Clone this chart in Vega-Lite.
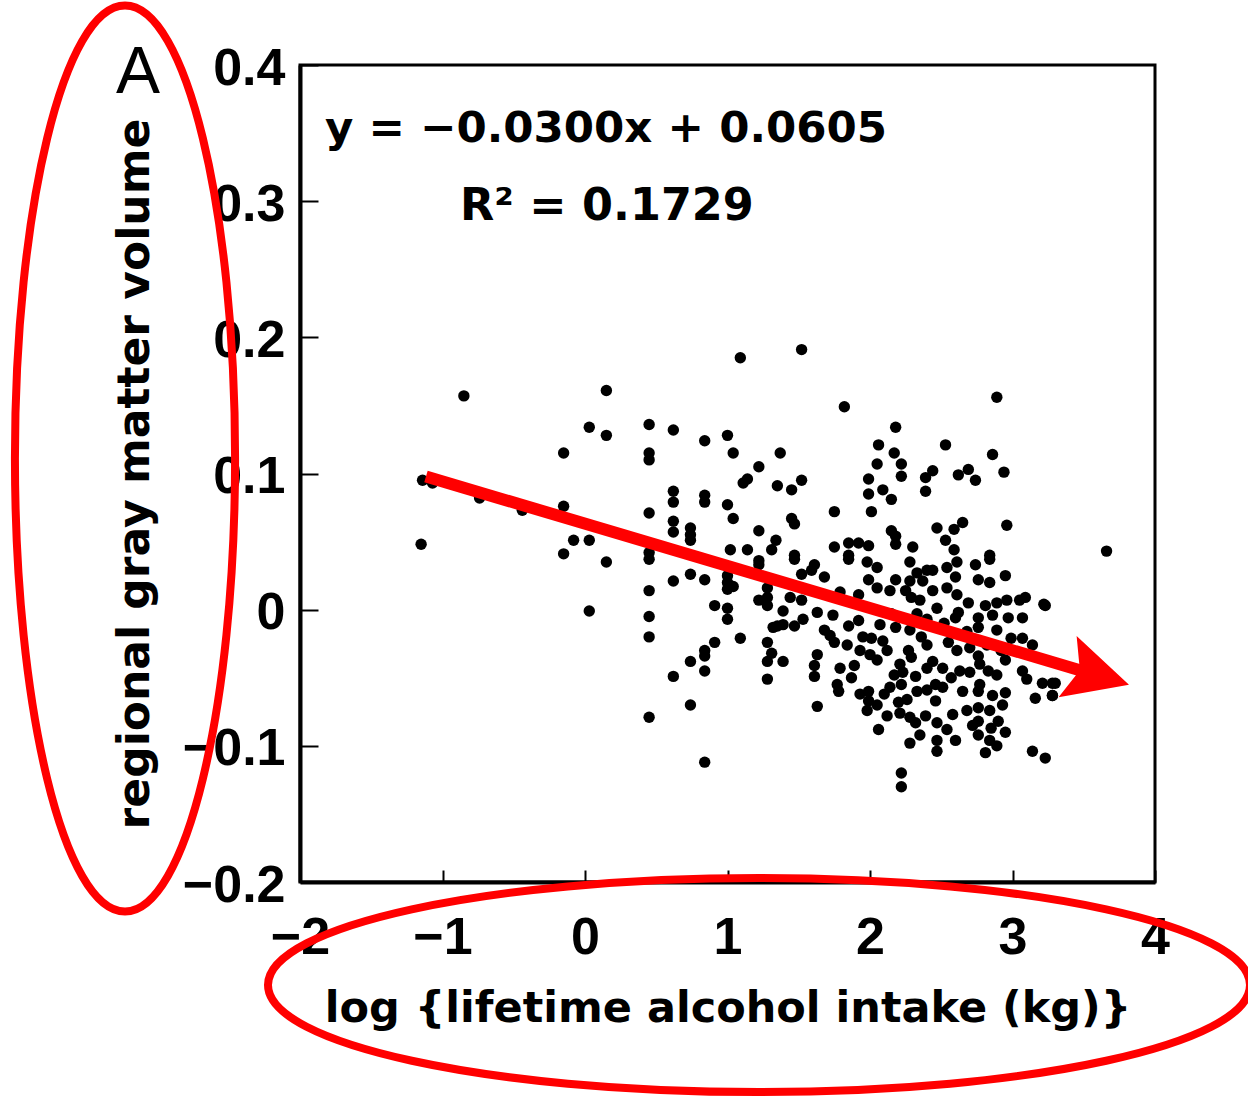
{
  "$schema": "https://vega.github.io/schema/vega-lite/v6.json",
  "autosize": "none",
  "width": 855,
  "height": 817,
  "padding": {"left": 300, "top": 65, "right": 93, "bottom": 215},
  "background": "white",
  "config": {
    "view": {"stroke": "black", "strokeWidth": 3},
    "font": "Liberation Sans"
  },
  "datasets": {
    "pts": [
      {"x":-0.85,"y":0.157},{"x":0.15,"y":0.161},{"x":0.03,"y":0.134},{"x":0.15,"y":0.128},{"x":-0.15,"y":0.115},{"x":-1.14,"y":0.095},{"x":-1.07,"y":0.093},{"x":-0.74,"y":0.082},{"x":-0.44,"y":0.073},{"x":-0.15,"y":0.076},{"x":-1.15,"y":0.048},{"x":-0.08,"y":0.051},{"x":0.03,"y":0.051},{"x":-0.15,"y":0.041},{"x":0.15,"y":0.035},{"x":0.03,"y":-0.001},
      {"x":1.09,"y":0.185},{"x":0.45,"y":0.136},{"x":0.45,"y":0.115},{"x":0.45,"y":0.110},{"x":0.62,"y":0.132},{"x":0.84,"y":0.124},{"x":1.0,"y":0.128},{"x":1.04,"y":0.115},{"x":1.22,"y":0.105},{"x":1.11,"y":0.093},{"x":1.14,"y":0.096},{"x":1.35,"y":0.091},{"x":1.37,"y":0.115},{"x":0.62,"y":0.087},{"x":0.62,"y":0.079},{"x":0.84,"y":0.084},{"x":0.84,"y":0.079},{"x":1.0,"y":0.077},{"x":1.04,"y":0.067},{"x":0.45,"y":0.071},{"x":0.62,"y":0.065},{"x":0.62,"y":0.057},{"x":0.74,"y":0.060},{"x":0.74,"y":0.055},{"x":0.74,"y":0.051},{"x":1.22,"y":0.058},{"x":1.34,"y":0.051},{"x":1.02,"y":0.044},{"x":1.14,"y":0.044},{"x":1.31,"y":0.044},{"x":0.45,"y":0.042},
      {"x":0.45,"y":0.037},{"x":0.62,"y":0.021},{"x":0.74,"y":0.026},{"x":0.84,"y":0.022},{"x":1.0,"y":0.025},{"x":1.0,"y":0.020},{"x":1.0,"y":0.015},{"x":1.04,"y":0.017},{"x":1.22,"y":0.036},{"x":1.22,"y":0.033},{"x":1.22,"y":0.007},{"x":1.28,"y":0.016},{"x":1.28,"y":0.009},{"x":1.28,"y":0.003},{"x":0.45,"y":0.014},{"x":0.91,"y":0.003},{"x":1.0,"y":0.001},{"x":1.0,"y":-0.007},{"x":0.45,"y":-0.005},{"x":0.45,"y":-0.020},{"x":1.32,"y":-0.013},{"x":1.35,"y":-0.012},{"x":0.91,"y":-0.024},{"x":1.09,"y":-0.021},{"x":1.28,"y":-0.024},{"x":1.31,"y":-0.032},{"x":0.84,"y":-0.030},{"x":0.84,"y":-0.034},{"x":0.74,"y":-0.038},{"x":1.28,"y":-0.038},{"x":0.84,"y":-0.045},{"x":0.62,"y":-0.049},{"x":1.28,"y":-0.051},{"x":0.74,"y":-0.070},{"x":0.45,"y":-0.079},{"x":0.84,"y":-0.112},
      {"x":1.52,"y":0.191},{"x":1.82,"y":0.149},{"x":2.18,"y":0.134},{"x":2.06,"y":0.121},{"x":2.17,"y":0.115},{"x":2.05,"y":0.107},{"x":2.22,"y":0.107},{"x":2.22,"y":0.098},{"x":1.99,"y":0.096},{"x":1.52,"y":0.095},{"x":1.45,"y":0.088},{"x":2.09,"y":0.088},{"x":1.99,"y":0.085},{"x":2.15,"y":0.081},{"x":2.39,"y":0.097},{"x":2.39,"y":0.087},{"x":1.75,"y":0.072},{"x":2.01,"y":0.072},{"x":1.45,"y":0.067},{"x":1.47,"y":0.063},{"x":2.15,"y":0.058},{"x":2.18,"y":0.054},{"x":2.18,"y":0.048},{"x":1.75,"y":0.046},{"x":1.85,"y":0.049},{"x":1.92,"y":0.049},{"x":1.99,"y":0.047},{"x":2.30,"y":0.046},{"x":1.47,"y":0.040},{"x":1.85,"y":0.040},
      {"x":1.47,"y":0.037},{"x":1.61,"y":0.033},{"x":1.59,"y":0.029},{"x":1.85,"y":0.037},{"x":1.98,"y":0.035},{"x":2.05,"y":0.031},{"x":2.28,"y":0.035},{"x":2.33,"y":0.027},{"x":2.40,"y":0.029},{"x":1.52,"y":0.026},{"x":1.68,"y":0.024},{"x":1.99,"y":0.022},{"x":2.18,"y":0.022},{"x":2.28,"y":0.021},{"x":2.37,"y":0.021},
      {"x":2.05,"y":0.016},{"x":2.14,"y":0.014},{"x":2.25,"y":0.014},{"x":2.29,"y":0.009},{"x":2.35,"y":0.007},{"x":1.44,"y":0.009},{"x":1.52,"y":0.007},{"x":1.79,"y":0.013},{"x":1.92,"y":0.011},
      {"x":1.39,"y":-0.001},{"x":1.39,"y":-0.011},{"x":1.47,"y":-0.012},{"x":1.53,"y":-0.007},{"x":1.63,"y":-0.002},{"x":1.74,"y":-0.004},{"x":1.85,"y":-0.012},{"x":1.92,"y":-0.008},{"x":2.07,"y":-0.011},{"x":2.18,"y":-0.013},{"x":2.28,"y":-0.015},{"x":2.40,"y":-0.007},{"x":1.68,"y":-0.015},
      {"x":1.72,"y":-0.019},{"x":1.75,"y":-0.024},{"x":1.84,"y":-0.026},{"x":2.01,"y":-0.021},{"x":2.09,"y":-0.023},{"x":1.93,"y":-0.030},{"x":2.0,"y":-0.033},{"x":2.05,"y":-0.037},{"x":2.27,"y":-0.030},{"x":2.29,"y":-0.035},{"x":2.40,"y":-0.026},{"x":1.63,"y":-0.033},
      {"x":1.39,"y":-0.038},{"x":1.61,"y":-0.041},{"x":1.61,"y":-0.049},{"x":1.79,"y":-0.043},{"x":1.89,"y":-0.041},{"x":2.21,"y":-0.040},{"x":2.23,"y":-0.046},{"x":2.40,"y":-0.043},{"x":2.32,"y":-0.049},
      {"x":1.77,"y":-0.055},{"x":1.78,"y":-0.060},{"x":2.14,"y":-0.057},{"x":2.22,"y":-0.055},{"x":2.33,"y":-0.060},{"x":2.40,"y":-0.059},{"x":1.93,"y":-0.062},{"x":1.99,"y":-0.060},
      {"x":1.63,"y":-0.071},{"x":1.99,"y":-0.067},{"x":2.05,"y":-0.070},{"x":1.98,"y":-0.074},{"x":2.20,"y":-0.068},{"x":2.21,"y":-0.076},{"x":2.28,"y":-0.079},{"x":2.32,"y":-0.083},{"x":2.39,"y":-0.078},
      {"x":2.06,"y":-0.088},{"x":2.22,"y":-0.120},{"x":2.22,"y":-0.130},
      {"x":2.89,"y":0.156},{"x":2.53,"y":0.121},{"x":2.86,"y":0.114},{"x":2.44,"y":0.102},{"x":2.62,"y":0.099},{"x":2.69,"y":0.103},{"x":2.74,"y":0.095},{"x":2.94,"y":0.101},{"x":2.47,"y":0.060},{"x":2.59,"y":0.059},{"x":2.65,"y":0.064},{"x":2.53,"y":0.051},{"x":2.59,"y":0.044},{"x":2.96,"y":0.062},{"x":2.84,"y":0.040},
      {"x":2.54,"y":0.031},{"x":2.61,"y":0.035},{"x":2.74,"y":0.033},{"x":2.84,"y":0.037},{"x":2.44,"y":0.029},{"x":2.60,"y":0.024},{"x":2.76,"y":0.022},{"x":2.84,"y":0.020},{"x":2.95,"y":0.025},
      {"x":2.44,"y":0.014},{"x":2.54,"y":0.016},{"x":2.61,"y":0.011},{"x":2.69,"y":0.005},{"x":2.81,"y":0.003},{"x":2.89,"y":0.005},{"x":2.96,"y":0.007},{"x":3.05,"y":0.007},{"x":3.22,"y":0.004},{"x":3.09,"y":0.009},
      {"x":2.47,"y":0.001},{"x":2.60,"y":-0.006},{"x":2.76,"y":-0.006},{"x":2.86,"y":-0.004},{"x":2.97,"y":-0.006},{"x":3.07,"y":-0.006},{"x":2.76,"y":-0.013},{"x":2.89,"y":-0.015},
      {"x":2.55,"y":-0.024},{"x":2.61,"y":-0.030},{"x":2.76,"y":-0.034},{"x":2.99,"y":-0.021},{"x":3.07,"y":-0.021},{"x":3.14,"y":-0.026},{"x":2.95,"y":-0.037},{"x":2.44,"y":-0.038},
      {"x":2.51,"y":-0.043},{"x":2.63,"y":-0.045},{"x":2.70,"y":-0.046},{"x":2.77,"y":-0.040},{"x":2.89,"y":-0.048},{"x":3.07,"y":-0.045},{"x":3.10,"y":-0.051},{"x":2.46,"y":-0.055},{"x":2.51,"y":-0.057},{"x":2.77,"y":-0.055},{"x":3.21,"y":-0.054},{"x":3.28,"y":-0.054},
      {"x":2.76,"y":-0.060},{"x":2.86,"y":-0.063},{"x":2.95,"y":-0.061},{"x":2.46,"y":-0.067},{"x":2.68,"y":-0.074},{"x":2.76,"y":-0.072},{"x":2.84,"y":-0.074},{"x":2.93,"y":-0.070},{"x":3.16,"y":-0.065},{"x":3.28,"y":-0.063},{"x":2.58,"y":-0.077},
      {"x":2.47,"y":-0.083},{"x":2.76,"y":-0.082},{"x":2.85,"y":-0.087},{"x":2.95,"y":-0.090},{"x":2.47,"y":-0.096},{"x":2.60,"y":-0.096},{"x":2.76,"y":-0.092},{"x":2.84,"y":-0.096},{"x":2.89,"y":-0.100},{"x":2.47,"y":-0.104},{"x":2.81,"y":-0.105},{"x":3.14,"y":-0.104},{"x":3.23,"y":-0.109},
      {"x":3.66,"y":0.043},{"x":3.23,"y":0.003},{"x":3.30,"y":-0.054},{"x":3.28,"y":-0.063},
      {"x":2.62,"y":-0.002},{"x":2.68,"y":-0.016},{"x":2.52,"y":-0.010},{"x":2.70,"y":-0.028},{"x":2.82,"y":-0.026},{"x":2.92,"y":-0.030},{"x":2.57,"y":-0.050},{"x":2.65,"y":-0.060},{"x":2.83,"y":-0.045},{"x":2.72,"y":-0.085},{"x":2.90,"y":-0.082},{"x":2.54,"y":-0.088},
      {"x":2.12,"y":-0.030},{"x":2.17,"y":-0.048},{"x":2.10,"y":-0.062},{"x":2.26,"y":-0.066},{"x":1.87,"y":-0.050},{"x":1.95,"y":-0.020},{"x":2.15,"y":-0.003},{"x":2.33,"y":-0.003},{"x":2.36,"y":-0.020},{"x":2.12,"y":-0.078},{"x":2.35,"y":-0.092},{"x":2.28,"y":-0.098}
    ]
  },
  "layer": [
    {
      "data": {"name": "pts"},
      "mark": {"type": "point", "shape": "circle", "filled": true, "color": "black", "opacity": 1, "size": 130},
      "encoding": {
        "x": {
          "field": "x", "type": "quantitative",
          "scale": {"domain": [-2, 4], "nice": false, "zero": false},
          "axis": {
            "values": [-2, -1, 0, 1, 2, 3, 4],
            "format": "d",
            "title": "log {lifetime alcohol intake (kg)}",
            "titleFont": "DejaVu Sans", "titleFontSize": 43, "titleFontWeight": "bold", "titleColor": "black", "titlePadding": 24,
            "labelFont": "Liberation Sans", "labelFontSize": 52, "labelFontWeight": "bold", "labelColor": "black",
            "labelFlush": false, "labelPadding": 42,
            "tickSize": -12, "tickWidth": 2, "tickColor": "black",
            "domainColor": "black", "domainWidth": 4, "grid": false
          }
        },
        "y": {
          "field": "y", "type": "quantitative",
          "scale": {"domain": [-0.2, 0.4], "nice": false, "zero": false},
          "axis": {
            "values": [-0.2, -0.1, 0, 0.1, 0.2, 0.3, 0.4],
            "format": ".1~f",
            "title": "regional gray matter volume",
            "titleFont": "DejaVu Sans", "titleFontSize": 44, "titleFontWeight": "bold", "titleColor": "black", "titlePadding": 25,
            "labelFont": "Liberation Sans", "labelFontSize": 52, "labelFontWeight": "bold", "labelColor": "black",
            "labelFlush": false, "labelPadding": 33, "labelOffset": 3,
            "tickSize": -18, "tickWidth": 2, "tickColor": "black",
            "domainColor": "black", "domainWidth": 4, "grid": false
          }
        }
      }
    },
    {
      "data": {"values": [{"x": -1.116, "y": 0.0978, "x2": 3.602, "y2": -0.0485}]},
      "mark": {"type": "rule", "color": "#ff0000", "strokeWidth": 12},
      "encoding": {
        "x": {"field": "x", "type": "quantitative"},
        "y": {"field": "y", "type": "quantitative"},
        "x2": {"field": "x2"},
        "y2": {"field": "y2"}
      }
    },
    {
      "data": {"values": [{"x": 3.602, "y": -0.0485}]},
      "mark": {"type": "point", "shape": "M1,0 L-1,-1 L-0.6,0 L-1,1 Z", "filled": true, "color": "#ff0000", "opacity": 1, "size": 4096, "angle": 16.4},
      "encoding": {
        "x": {"field": "x", "type": "quantitative"},
        "y": {"field": "y", "type": "quantitative"}
      }
    },
    {
      "data": {"values": [{"x": -3.228, "y": 0.111}]},
      "mark": {"type": "point", "shape": "M0.243,0 C0.243,0.5523 0.1342,1 0,1 C-0.1342,1 -0.243,0.5523 -0.243,0 C-0.243,-0.5523 -0.1342,-1 0,-1 C0.1342,-1 0.243,-0.5523 0.243,0 Z", "filled": false, "stroke": "#ff0000", "strokeWidth": 8, "opacity": 1, "size": 820836},
      "encoding": {
        "x": {"field": "x", "type": "quantitative"},
        "y": {"field": "y", "type": "quantitative"}
      }
    },
    {
      "data": {"values": [{"x": 1.221, "y": -0.2757}]},
      "mark": {"type": "point", "shape": "M1,0 C1,0.1204 0.5523,0.218 0,0.218 C-0.5523,0.218 -1,0.1204 -1,0 C-1,-0.1204 -0.5523,-0.218 0,-0.218 C0.5523,-0.218 1,-0.1204 1,0 Z", "filled": false, "stroke": "#ff0000", "strokeWidth": 8, "opacity": 1, "size": 964324},
      "encoding": {
        "x": {"field": "x", "type": "quantitative"},
        "y": {"field": "y", "type": "quantitative"}
      }
    },
    {
      "data": {"values": [{"x": -1.825, "y": 0.353, "t": "y = −0.0300x + 0.0605"}]},
      "mark": {"type": "text", "align": "left", "baseline": "middle", "font": "DejaVu Sans", "fontSize": 43.5, "fontWeight": "bold", "color": "black"},
      "encoding": {
        "x": {"field": "x", "type": "quantitative"},
        "y": {"field": "y", "type": "quantitative"},
        "text": {"field": "t"}
      }
    },
    {
      "data": {"values": [{"x": -0.877, "y": 0.2956, "t": "R² = 0.1729"}]},
      "mark": {"type": "text", "align": "left", "baseline": "middle", "font": "DejaVu Sans", "fontSize": 44.5, "fontWeight": "bold", "color": "black"},
      "encoding": {
        "x": {"field": "x", "type": "quantitative"},
        "y": {"field": "y", "type": "quantitative"},
        "text": {"field": "t"}
      }
    },
    {
      "data": {"values": [{"x": -3.137, "y": 0.394, "t": "A"}]},
      "mark": {"type": "text", "align": "center", "baseline": "middle", "font": "Liberation Sans", "fontSize": 66, "color": "black"},
      "encoding": {
        "x": {"field": "x", "type": "quantitative"},
        "y": {"field": "y", "type": "quantitative"},
        "text": {"field": "t"}
      }
    }
  ]
}
